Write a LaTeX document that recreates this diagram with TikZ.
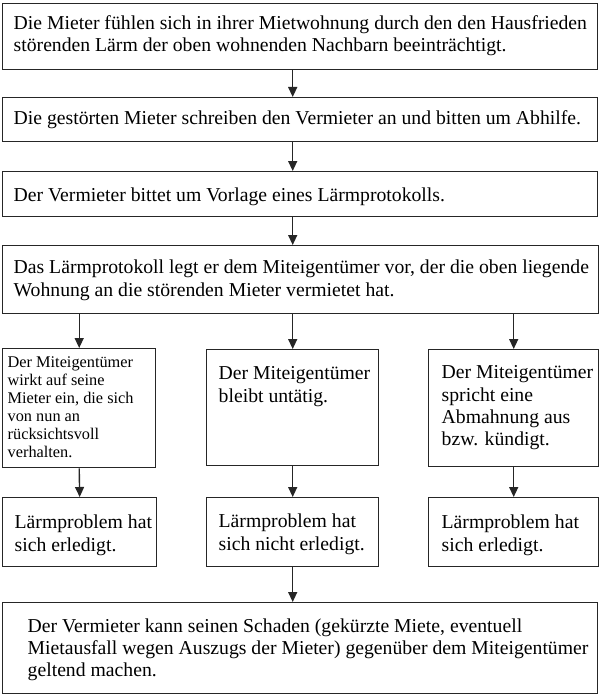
\documentclass[tikz,border=0pt]{standalone}
\usepackage{fontspec}
\setmainfont{Liberation Serif}
\usetikzlibrary{arrows.meta}
\newcommand\tb[5]{\begin{minipage}[t][#2pt][t]{#1pt}\raggedright\leftskip=#3pt\noindent\rule{0pt}{#4pt}#5\end{minipage}}
\tikzset{
  bx/.style={draw=black!85, line width=1.4pt, inner sep=0pt, anchor=north west, font=\fontsize{19.7}{22.3}\selectfont},
  bxs/.style={bx, font=\fontsize{16.3}{18}\selectfont},
  arr/.style={draw=black!85, line width=1.4pt, -{Triangle[length=10pt,width=9pt]}}
}
\begin{document}
\begin{tikzpicture}[x=1pt,y=-1pt]
\useasboundingbox[fill=white] (0,0) rectangle (600,698);
\node[bx] (b1) at (2,3) {\tb{595}{66}{11}{26}{Die Mieter fühlen sich in ihrer Mietwohnung durch den den Hausfrieden\\störenden Lärm der oben wohnenden Nachbarn beeinträchtigt.}};
\node[bx] (b2) at (2,97) {\tb{595}{44}{11}{27}{Die gestörten Mieter schreiben den Vermieter an und bitten um Abhilfe.}};
\node[bx] (b3) at (2,171) {\tb{595}{45}{11}{30}{Der Vermieter bittet um Vorlage eines Lärmprotokolls.}};
\node[bx] (b4) at (2,245) {\tb{596}{68}{11}{28}{Das Lärmprotokoll legt er dem Miteigentümer vor, der die oben liegende\\Wohnung an die störenden Mieter vermietet hat.}};
\node[bxs] (l1) at (2,348) {\tb{153}{119}{5}{19}{Der Miteigentümer\\wirkt auf seine\\Mieter ein, die sich\\von nun an\\rücksichtsvoll\\verhalten.}};
\node[bx] (m1) at (206,349) {\tb{172}{116}{12}{30}{Der Miteigentümer\\bleibt untätig.}};
\node[bx] (r1) at (428,349) {\tb{170}{117}{13}{29}{Der Miteigentümer\\spricht eine\\Abmahnung aus\\bzw. kündigt.}};
\node[bx] (l2) at (2,497) {\tb{154}{69}{12}{31}{Lärmproblem hat\\sich erledigt.}};
\node[bx] (m2) at (206,497) {\tb{172}{69}{12}{30}{Lärmproblem hat\\sich nicht erledigt.}};
\node[bx] (r2) at (428,497) {\tb{170}{69}{13}{31}{Lärmproblem hat\\sich erledigt.}};
\node[bx, font=\fontsize{19.7}{21.7}\selectfont] (b5) at (2,602) {\tb{595}{91}{25}{30}{Der Vermieter kann seinen Schaden (gekürzte Miete, eventuell\\Mietausfall wegen Auszugs der Mieter) gegenüber dem Miteigentümer\\geltend machen.}};
\draw[arr] (b1.south -| m1.north) -- (b2.north -| m1.north);
\draw[arr] (b2.south -| m1.north) -- (b3.north -| m1.north);
\draw[arr] (b3.south -| m1.north) -- (b4.north -| m1.north);
\draw[arr] (b4.south -| l1.north) -- (l1.north);
\draw[arr] (b4.south -| m1.north) -- (m1.north);
\draw[arr] (b4.south -| r1.north) -- (r1.north);
\draw[arr] (l1.south) -- (l2.north);
\draw[arr] (m1.south) -- (m2.north);
\draw[arr] (r1.south) -- (r2.north);
\draw[arr] (m2.south) -- (b5.north -| m2.south);
\end{tikzpicture}
\end{document}
